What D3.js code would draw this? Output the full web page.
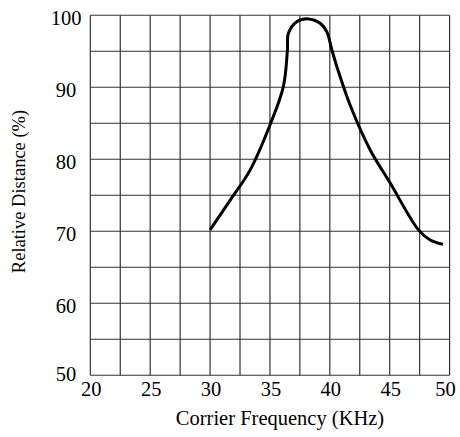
<!DOCTYPE html>
<html><head><meta charset="utf-8">
<script src="https://cdn.jsdelivr.net/npm/d3@7/dist/d3.min.js"></script>
<style>body{margin:0;background:#fff}svg{display:block}</style>
</head><body>
<script>
const freq = [30, 31.67, 33.34, 35.01, 36.12, 36.46, 36.54, 37.24, 38.2, 39.19, 39.75, 40.17, 40.58, 41.7, 43.37, 45.04, 47.4, 48.38, 49.44];
const dist = [70.2, 74.3, 78.5, 84.8, 90.1, 95.2, 97.5, 99.1, 99.5, 98.9, 97.7, 95.2, 92.9, 87.5, 81.3, 76.7, 70.2, 68.8, 68.2];
const xTicks = [20, 25, 30, 35, 40, 45, 50];
const yTicks = [50, 60, 70, 80, 90, 100];
const xGrid = d3.range(20, 50.01, 2.5);
const yGrid = d3.range(50, 100.01, 5);

const W = 460, H = 437;
const m = {left: 90.3, right: 460 - 449.6, top: 15.3, bottom: 437 - 375.3};
const svg = d3.select("body").append("svg").attr("width", W).attr("height", H);
const x = d3.scaleLinear().domain([20, 50]).range([m.left, W - m.right]);
const y = d3.scaleLinear().domain([50, 100]).range([H - m.bottom, m.top]);
const font = "'Liberation Serif', 'Times New Roman', serif";

const g = svg.append("g");
g.selectAll("line.v").data(xGrid).join("line")
  .attr("x1", d => x(d)).attr("x2", d => x(d)).attr("y1", y(50)).attr("y2", y(100))
  .attr("stroke", "#222").attr("stroke-width", 1.1);
g.selectAll("line.h").data(yGrid).join("line")
  .attr("y1", d => y(d)).attr("y2", d => y(d)).attr("x1", x(20)).attr("x2", x(50))
  .attr("stroke", "#333").attr("stroke-width", 1.1);

g.selectAll("text.xt").data(xTicks).join("text")
  .attr("x", d => x(d) + (d === 50 ? -4 : 1)).attr("y", y(50) + 21)
  .attr("text-anchor", "middle").attr("font-family", font).attr("font-size", 20.5)
  .text(d => d);
g.selectAll("text.yt").data(yTicks).join("text")
  .attr("x", 66).attr("y", d => y(d) + (d === 50 ? 6 : 9.5))
  .attr("text-anchor", "middle").attr("font-family", font).attr("font-size", 20.5)
  .text(d => d);

svg.append("text").attr("x", 280).attr("y", 425)
  .attr("text-anchor", "middle").attr("font-family", font).attr("font-size", 20.5)
  .text("Corrier Frequency (KHz)");
svg.append("text").attr("transform", `translate(25,191.5) rotate(-90)`)
  .attr("text-anchor", "middle").attr("font-family", font).attr("font-size", 18.5)
  .text("Relative Distance (%)");

const pts = freq.map((f, i) => [f, dist[i]]);
svg.append("path").datum(pts)
  .attr("d", d3.line().x(d => x(d[0])).y(d => y(d[1])).curve(d3.curveCatmullRom.alpha(0.5)))
  .attr("fill", "none").attr("stroke", "#000").attr("stroke-width", 3).attr("stroke-linecap", "butt");
</script>
</body></html>
